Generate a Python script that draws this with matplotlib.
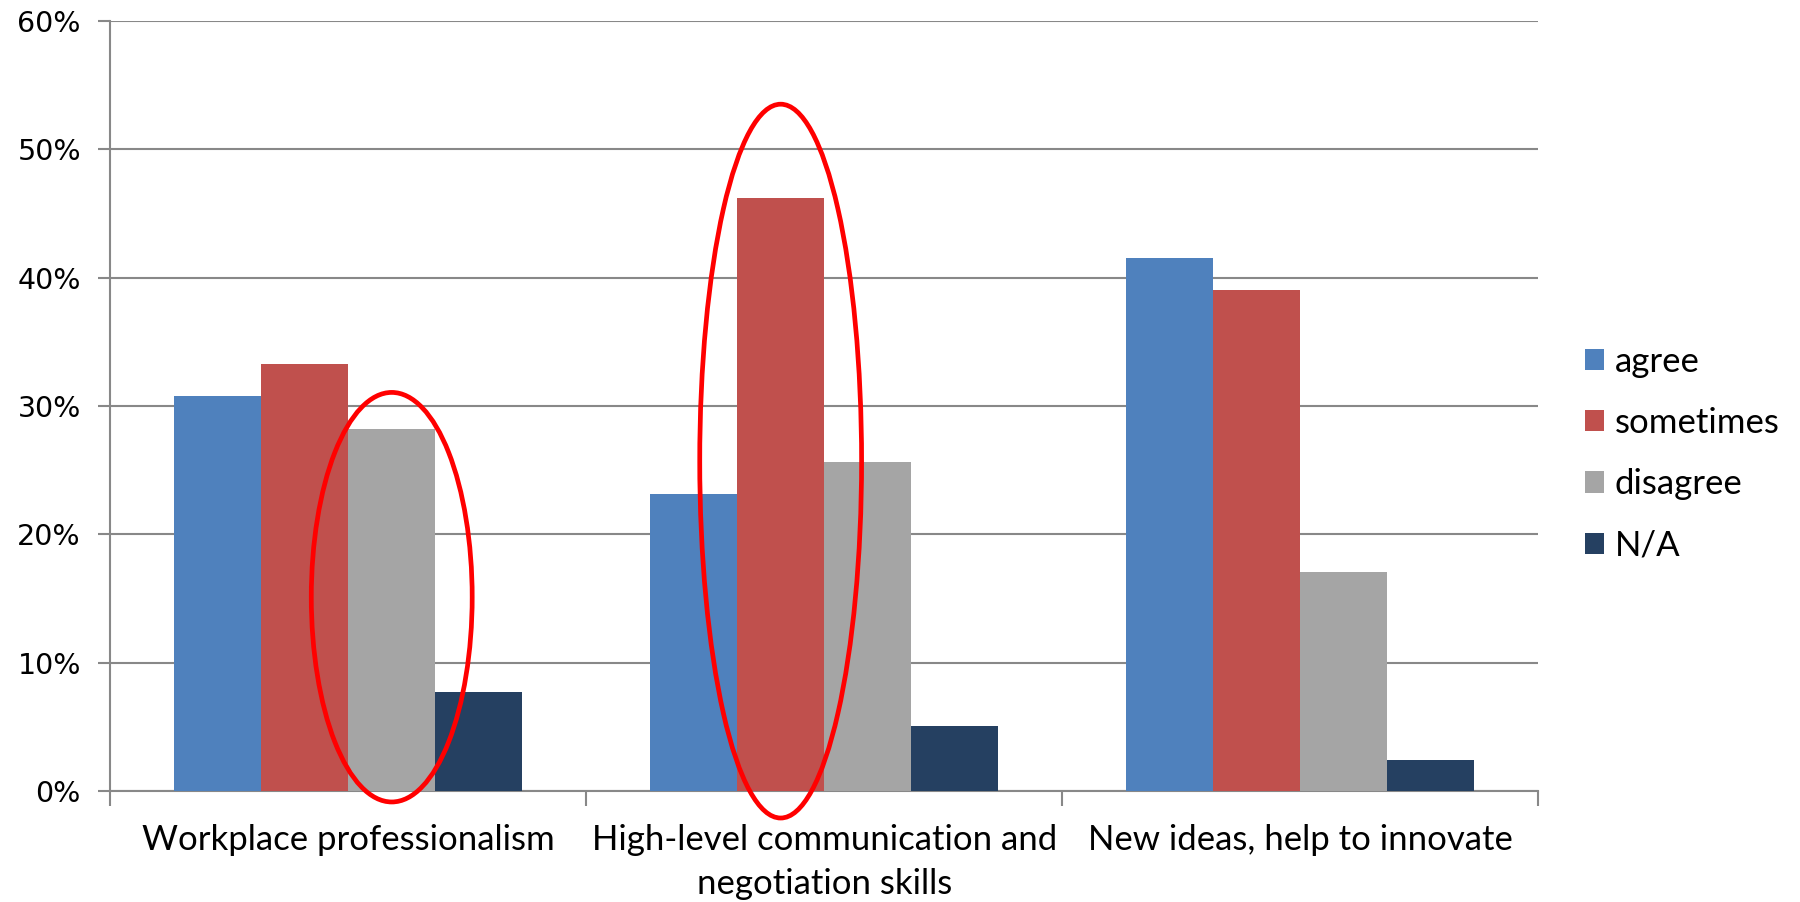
import matplotlib
matplotlib.use("Agg")

import numpy as np
import matplotlib.pyplot as plt
from matplotlib.patches import Ellipse

categories = ["Workplace professionalism",
              "High-level communication and\nnegotiation skills",
              "New ideas, help to innovate"]
series = ["agree", "sometimes", "disagree", "N/A"]
agree = [30.8, 23.1, 41.5]
sometimes = [33.3, 46.2, 39.0]
disagree = [28.2, 25.6, 17.1]
na = [7.7, 5.1, 2.4]
colors = ["#4F81BD", "#C0504D", "#A5A5A5", "#254061"]
yticks = [0, 10, 20, 30, 40, 50, 60]

grid_col = "#888888"

fig = plt.figure(figsize=(18, 9.02), dpi=100)
ax = fig.add_axes([0.0612, 0.123, 0.7934, 0.854])

x = np.arange(len(categories))
bw = 0.183
values = [agree, sometimes, disagree, na]
for i, (name, vals) in enumerate(zip(series, values)):
    ax.bar(x + (i - 1.5) * bw, vals, bw, color=colors[i], label=name, zorder=3)

ax.set_xlim(-0.5, 2.5)
ax.set_ylim(0, 60)
ax.set_yticks(yticks)
ax.set_yticklabels([f"{t}%" for t in yticks], fontsize=20.5, family="DejaVu Sans")
ax.yaxis.grid(True, color=grid_col, lw=1.5, zorder=0)

# category labels between boundary ticks
ax.set_xticks([-0.5, 0.5, 1.5, 2.5])
ax.set_xticklabels([])
ax.set_xticks(x, minor=True)
ax.set_xticklabels(categories, minor=True, fontsize=25, family="Lato",
                   linespacing=1.45)
ax.tick_params(axis="x", which="minor", length=0, pad=24)
ax.tick_params(axis="x", which="major", length=11, width=1.5, color=grid_col)
ax.tick_params(axis="y", length=9, width=1.5, color=grid_col, pad=12)

for s in ["top", "right"]:
    ax.spines[s].set_visible(False)
for s in ["left", "bottom"]:
    ax.spines[s].set_color(grid_col)
    ax.spines[s].set_linewidth(1.5)

# red highlight ovals
ax.add_patch(Ellipse((0 + 0.5 * bw, 15.1), 0.338, 31.9, fill=False,
                     edgecolor="#FF0000", lw=3.4, clip_on=False, zorder=5))
ax.add_patch(Ellipse((1 - 0.5 * bw, 25.7), 0.34, 55.6, fill=False,
                     edgecolor="#FF0000", lw=3.4, clip_on=False, zorder=5))

fig.legend(loc="center left", bbox_to_anchor=(0.863, 0.497), frameon=False,
           prop={"family": "Lato", "size": 25}, handlelength=0.56,
           handleheight=0.56, handletextpad=0.3, labelspacing=0.84)

fig.savefig("out.png", dpi=100)
